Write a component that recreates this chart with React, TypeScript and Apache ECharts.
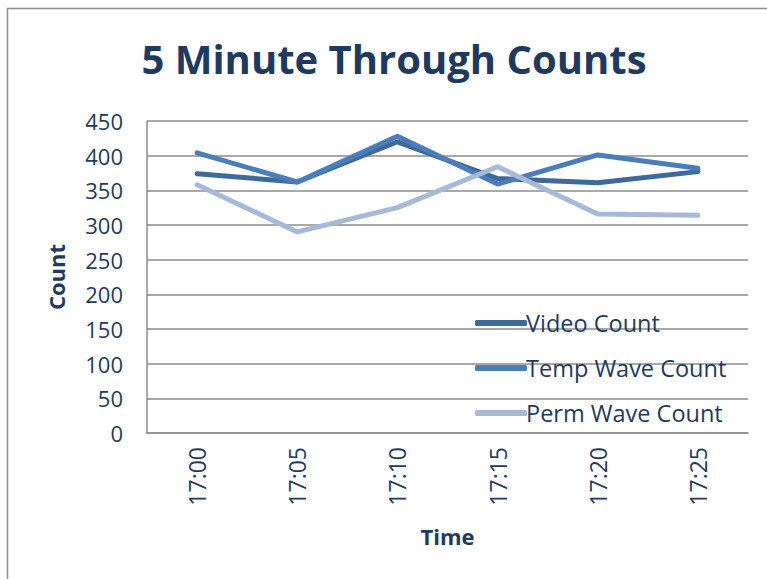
import React, { useEffect, useRef } from "react";
import * as echarts from "echarts";

const categories = ["17:00", "17:05", "17:10", "17:15", "17:20", "17:25"];
const videoCount = [374, 362, 420, 367, 361, 377];
const tempWaveCount = [404, 362, 428, 359, 401, 382];
const permWaveCount = [358, 290, 325, 384, 316, 314];

const TEXT = "#1F3A60";

export default function App() {
  const ref = useRef<HTMLDivElement>(null);
  useEffect(() => {
    const chart = echarts.init(ref.current!, null, { renderer: "svg" });
    const mk = (name: string, data: number[], color: string) => ({
      name,
      type: "line",
      data,
      symbol: "none",
      lineStyle: { width: 5, color, cap: "round", join: "round" },
      itemStyle: { color },
    });
    chart.setOption({
      animation: false,
      backgroundColor: "#ffffff",
      title: {
        text: "5 Minute Through Counts",
        left: 389,
        textAlign: "center",
        top: 33,
        textStyle: { fontFamily: "Open Sans", fontWeight: "bold", fontSize: 40, color: TEXT },
      },
      grid: { left: 147, right: 19, top: 121, bottom: 146, containLabel: false },
      legend: {
        orient: "vertical",
        left: 470,
        top: 306,
        itemGap: 21,
        itemWidth: 52,
        itemHeight: 6,
        icon: "roundRect",
        textStyle: { fontFamily: "Open Sans", fontSize: 23.5, color: TEXT, padding: [0, 0, 0, -6] },
        data: ["Video Count", "Temp Wave Count", "Perm Wave Count"],
      },
      xAxis: {
        type: "category",
        data: categories,
        boundaryGap: true,
        name: "Time",
        nameLocation: "middle",
        nameGap: 92,
        nameTextStyle: { fontFamily: "Open Sans", fontWeight: "bold", fontSize: 22, color: TEXT },
        axisLine: { lineStyle: { color: "#8c8c8c", width: 1.5 } },
        axisTick: { show: false },
        axisLabel: { rotate: 90, fontFamily: "Open Sans", fontSize: 23, color: TEXT, margin: 14 },
      },
      yAxis: {
        type: "value",
        min: 0,
        max: 450,
        interval: 50,
        name: "Count",
        nameLocation: "middle",
        nameGap: 80,
        nameRotate: 90,
        nameTextStyle: { fontFamily: "Open Sans", fontWeight: "bold", fontSize: 22, color: TEXT },
        axisLine: { show: true, lineStyle: { color: "#8c8c8c", width: 1.5 } },
        axisTick: { show: false },
        splitLine: { lineStyle: { color: "#8c8c8c", width: 1.5 } },
        axisLabel: { fontFamily: "Open Sans", fontSize: 22, color: TEXT, margin: 24 },
      },
      graphic: [
        {
          type: "rect",
          shape: { x: 7.5, y: 8.5, width: 900, height: 700 },
          style: { fill: "none", stroke: "#8c8c8c", lineWidth: 1.5 },
          silent: true,
        },
      ],
      series: [
        mk("Video Count", videoCount, "#3D699D"),
        mk("Temp Wave Count", tempWaveCount, "#4A7EBB"),
        mk("Perm Wave Count", permWaveCount, "#A7B9D8"),
      ],
    });
    return () => chart.dispose();
  }, []);
  return (
    <div
      ref={ref}
      style={{ position: "absolute", left: 0, top: 0, width: 767, height: 579 }}
    />
  );
}
